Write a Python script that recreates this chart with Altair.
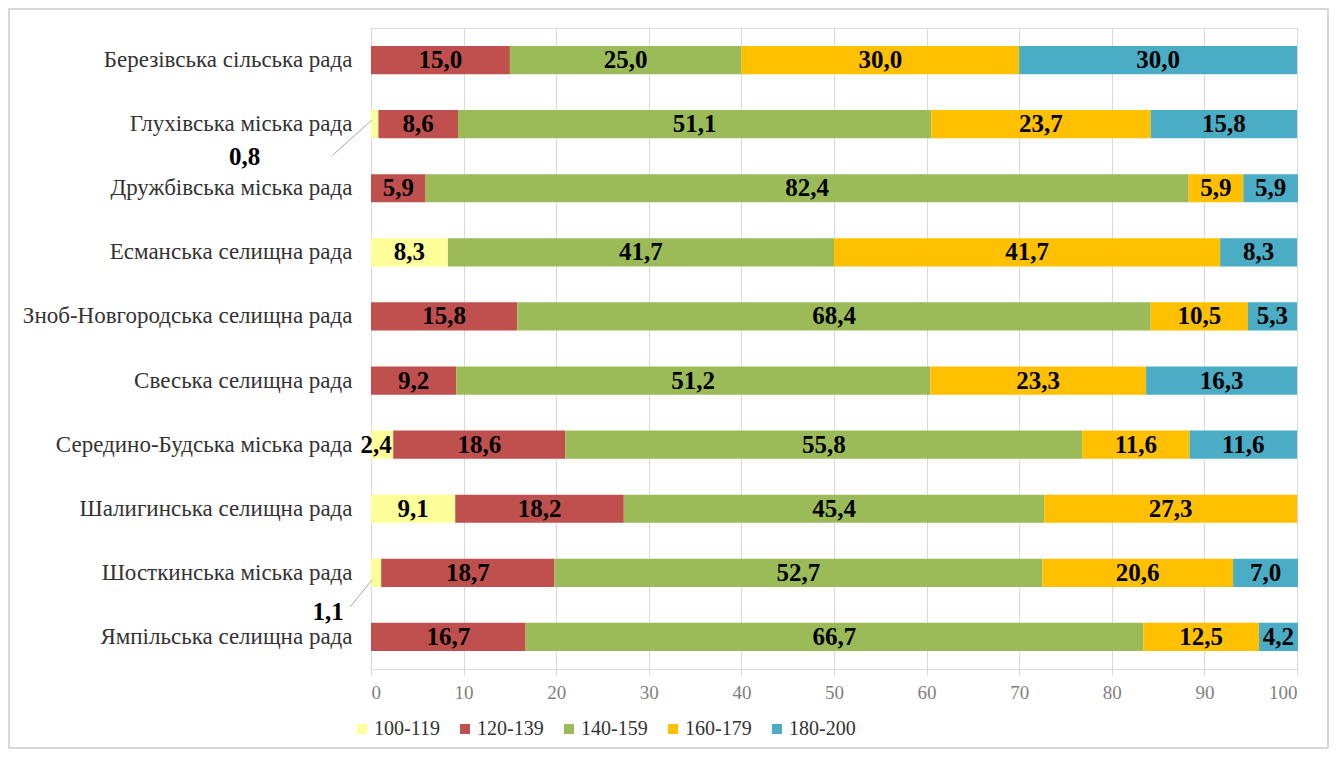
import altair as alt
import pandas as pd

categories = [
    "Березівська сільська рада",
    "Глухівська міська рада",
    "Дружбівська міська рада",
    "Есманська селищна рада",
    "Зноб-Новгородська селищна рада",
    "Свеська селищна рада",
    "Середино-Будська міська рада",
    "Шалигинська селищна рада",
    "Шосткинська міська рада",
    "Ямпільська селищна рада",
]
series = ["100-119", "120-139", "140-159", "160-179", "180-200"]
colors = ["#FFFF99", "#C0504D", "#9BBB59", "#FFC000", "#4BACC6"]

s100_119 = [0, 0.8, 0, 8.3, 0, 0, 2.4, 9.1, 1.1, 0]
s120_139 = [15.0, 8.6, 5.9, 0, 15.8, 9.2, 18.6, 18.2, 18.7, 16.7]
s140_159 = [25.0, 51.1, 82.4, 41.7, 68.4, 51.2, 55.8, 45.4, 52.7, 66.7]
s160_179 = [30.0, 23.7, 5.9, 41.7, 10.5, 23.3, 11.6, 27.3, 20.6, 12.5]
s180_200 = [30.0, 15.8, 5.9, 8.3, 5.3, 16.3, 11.6, 0, 7.0, 4.2]

x_ticks = [0, 10, 20, 30, 40, 50, 60, 70, 80, 90, 100]

FONT = "Liberation Serif"

rows = []
all_series = [s100_119, s120_139, s140_159, s160_179, s180_200]
for ci, cat in enumerate(categories):
    start = 0.0
    for si, name in enumerate(series):
        v = all_series[si][ci]
        end = start + v
        rows.append({
            "cat": cat, "series": name, "order": si, "value": v,
            "start": start, "end": end, "mid": (start + end) / 2,
            "label": f"{v:.1f}".replace(".", ","),
        })
        start = end
df = pd.DataFrame(rows)
df = df[df["value"] > 0]

normal = df[(df["value"] >= 3)]
small_left = df[(df["value"] > 2) & (df["value"] < 3)]   # 2,4
callout_a = df[(df["cat"] == categories[1]) & (df["series"] == series[0])]   # 0,8
callout_b = df[(df["cat"] == categories[8]) & (df["series"] == series[0])]   # 1,1

y_enc = alt.Y("cat:N", sort=categories, title=None,
              scale=alt.Scale(paddingInner=0.56, paddingOuter=0.28),
              axis=alt.Axis(domain=False, ticks=False, labelFont=FONT, labelFontSize=23,
                            labelColor="#333333", labelPadding=19, labelLimit=500, grid=False))
x_scale = alt.Scale(domain=[0, 100], nice=False)

bars = alt.Chart(df).mark_bar().encode(
    x=alt.X("start:Q", scale=x_scale, title=None,
            axis=alt.Axis(values=x_ticks, grid=True, gridColor="#D9D9D9", domain=False,
                          ticks=True, tickColor="#D9D9D9", tickSize=6,
                          labelFont=FONT, labelFontSize=19, labelColor="#7F7F7F",
                          labelPadding=8)),
    x2="end:Q",
    y=y_enc,
    color=alt.Color("series:N", scale=alt.Scale(domain=series, range=colors), title=None,
                    legend=alt.Legend(orient="none", direction="horizontal", legendX=-19, legendY=691,
                                      symbolType="square", symbolSize=100, symbolStrokeWidth=0,
                                      labelFont=FONT, labelFontSize=20, labelColor="#333333",
                                      labelOffset=2, columnPadding=15, columns=5)),
    order="order:Q",
)

text_style = dict(font=FONT, fontSize=25, fontWeight="bold", color="black")

labels = alt.Chart(normal).mark_text(**text_style).encode(
    x=alt.X("mid:Q", scale=x_scale), y=alt.Y("cat:N", sort=categories), text="label:N")

lbl_24 = alt.Chart(small_left).mark_text(dx=-6, **text_style).encode(
    x=alt.X("mid:Q", scale=x_scale), y=alt.Y("cat:N", sort=categories), text="label:N")

lbl_a = alt.Chart(callout_a).mark_text(dx=-130, dy=33, **text_style).encode(
    x=alt.X("mid:Q", scale=x_scale), y=alt.Y("cat:N", sort=categories), text="label:N")
lbl_b = alt.Chart(callout_b).mark_text(dx=-48, dy=39, **text_style).encode(
    x=alt.X("mid:Q", scale=x_scale), y=alt.Y("cat:N", sort=categories), text="label:N")

lead_a = alt.Chart(callout_a).mark_rule(color="#A6A6A6", strokeWidth=1,
                                        xOffset=-3, yOffset=-4, x2Offset=-42, y2Offset=31).encode(
    x=alt.X("mid:Q", scale=x_scale), x2="mid:Q",
    y=alt.Y("cat:N", sort=categories), y2="cat:N")
lead_b = alt.Chart(callout_b).mark_rule(color="#A6A6A6", strokeWidth=1,
                                        xOffset=-4, yOffset=7, x2Offset=-26, y2Offset=34).encode(
    x=alt.X("mid:Q", scale=x_scale), x2="mid:Q",
    y=alt.Y("cat:N", sort=categories), y2="cat:N")

frame = alt.Chart(pd.DataFrame({"k": [0]})).mark_rect(
    fillOpacity=0, stroke="#CCCCCC", strokeWidth=1.5).encode(
    x=alt.value(-362), x2=alt.value(957), y=alt.value(-19), y2=alt.value(720))

chart = alt.layer(bars, labels, lbl_24, lead_a, lead_b, lbl_a, lbl_b, frame).properties(
    width=926, height=641,
    padding={"left": 363, "top": 20, "right": 32, "bottom": 80},
    autosize=alt.AutoSizeParams(type="none"),
).configure_view(stroke=None).configure(background="white")

chart.save("out.html", embed_options={"renderer": "svg", "actions": False})
